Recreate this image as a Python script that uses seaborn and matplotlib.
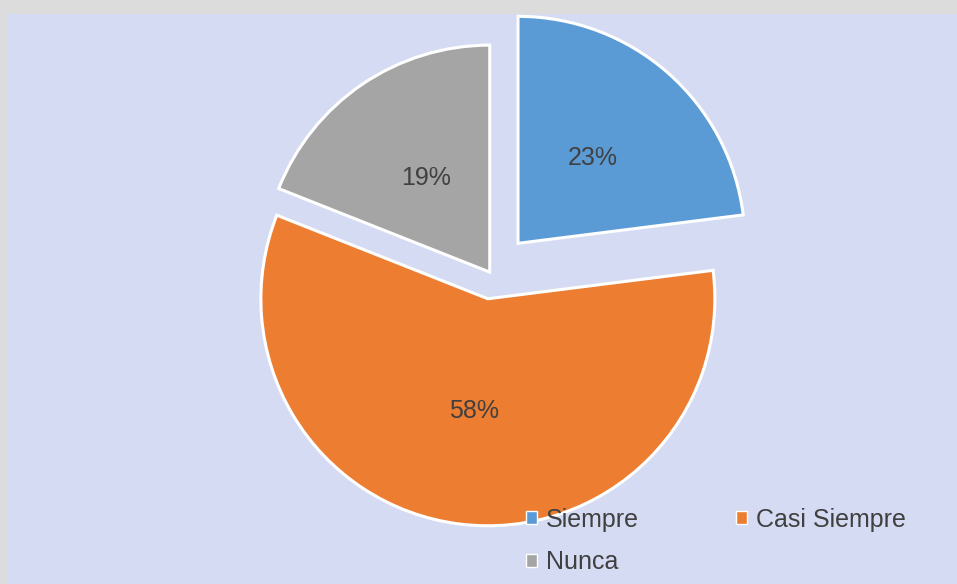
import matplotlib
matplotlib.use("Agg")
import matplotlib.pyplot as plt
from matplotlib.patches import Patch, Rectangle
import seaborn as sns

# data
categories = ["Siempre", "Casi Siempre", "Nunca"]
shares = [23, 58, 19]
explode = [0.18, 0.11, 0.01]

colors = ["#5B9BD5", "#ED7D31", "#A5A5A5"]
text_color = "#404040"

sns.set_theme(style="white")
plt.rcParams["font.family"] = ["Liberation Sans", "DejaVu Sans"]

W, H = 957, 584
fig = plt.figure(figsize=(W / 100, H / 100), dpi=100, facecolor="#DCDCDC")

# panel behind the chart (flat colour instead of the texture)
fig.patches.append(Rectangle((8 / W, 0), 1 - 8 / W, 1 - 14 / H,
                             transform=fig.transFigure,
                             facecolor="#D5DBF2", edgecolor="none", zorder=-5))

ax = fig.add_axes([0, 0, 1, 1])
ax.set_facecolor("none")
ax.axis("off")

# pie centre in pixel coords and radius in pixels
cx, cy, r = 491, 274, 227

wedges, texts, autotexts = ax.pie(
    shares,
    colors=colors,
    explode=explode,
    startangle=90,
    counterclock=False,
    autopct="%d%%",
    pctdistance=0.5,
    wedgeprops=dict(edgecolor="white", linewidth=2.2),
    textprops=dict(color=text_color, fontsize=18),
)
ax.set_xlim(-cx / r, (W - cx) / r)
ax.set_ylim(-(H - cy) / r, cy / r)
ax.set_aspect("auto")

# legend is filled column by column, so reorder to read row by row
order = [0, 2, 1]
handles = [Patch(facecolor=colors[i], edgecolor="white", linewidth=1) for i in order]
labels = [categories[i] for i in order]
fig.legend(
    handles, labels,
    loc="upper left",
    bbox_to_anchor=(513 / W, 1 - 495 / H),
    ncol=2,
    frameon=False,
    fontsize=18,
    labelcolor=text_color,
    handlelength=0.45,
    handleheight=0.45,
    handletextpad=0.35,
    columnspacing=3.9,
    labelspacing=0.75,
    borderpad=0,
)

fig.savefig("out.png", dpi=100, facecolor=fig.get_facecolor())
